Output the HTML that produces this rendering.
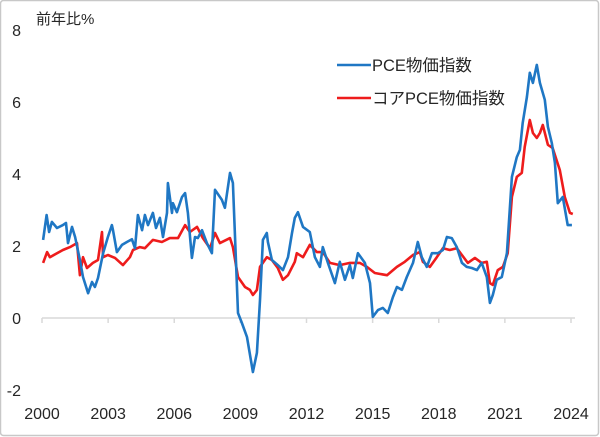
<!DOCTYPE html>
<html><head><meta charset="utf-8"><style>
html,body{margin:0;padding:0;background:#fff}
#wrap{position:relative;width:600px;height:437px;overflow:hidden;background:#fff}
svg text{font-family:"Liberation Sans","Noto Sans CJK JP",sans-serif;fill:#262626}
</style></head><body>
<div id="wrap">
<svg id="chart" width="600" height="437">
<rect x="0.5" y="0.5" width="598" height="435" fill="#fff" stroke="#c8c8c8" stroke-width="1.5" rx="3"/>
<text x="36" y="24" font-size="15">前年比%</text>
<g id="yticks"></g><g id="xaxis"></g><g id="series"></g>
<g>
<line x1="337" y1="65" x2="371" y2="65" stroke="#1f77c4" stroke-width="2.6"/>
<text x="372" y="71" font-size="16.5">PCE物価指数</text>
<line x1="337" y1="98" x2="371" y2="98" stroke="#ee1c1c" stroke-width="2.6"/>
<text x="372" y="104" font-size="16.5">コアPCE物価指数</text>
</g>
</svg></div>
<script>
const yTicks=[8,6,4,2,0,-2];
const xTickLabels=[2000,2003,2006,2009,2012,2015,2018,2021,2024];
const pceYears=[0.05,0.21,0.32,0.45,0.68,0.95,1.09,1.18,1.36,1.50,1.72,1.86,2.09,2.27,2.40,2.54,2.77,2.99,3.17,3.22,3.40,3.63,3.85,4.08,4.22,4.35,4.54,4.67,4.81,5.03,5.17,5.35,5.49,5.67,5.71,5.90,5.94,6.12,6.35,6.49,6.62,6.80,6.94,7.07,7.26,7.48,7.71,7.85,8.16,8.30,8.53,8.66,8.89,9.07,9.30,9.57,9.75,9.89,10.02,10.20,10.25,10.43,10.70,10.93,11.16,11.34,11.47,11.61,11.84,12.15,12.38,12.61,12.74,12.97,13.29,13.51,13.74,13.97,14.10,14.33,14.65,14.88,15.01,15.24,15.46,15.69,15.92,16.10,16.33,16.55,16.83,17.05,17.23,17.46,17.69,17.96,18.19,18.37,18.59,18.82,19.05,19.27,19.50,19.73,19.95,20.18,20.32,20.45,20.63,20.86,21.09,21.32,21.54,21.68,21.81,22.00,22.13,22.27,22.45,22.59,22.81,22.95,23.13,23.27,23.40,23.63,23.85,24.04];
const pceValues=[2.17,2.86,2.39,2.67,2.5,2.58,2.64,2.08,2.53,2.25,1.61,1.14,0.69,1.0,0.86,1.11,1.8,2.25,2.58,2.44,1.83,2.03,2.11,2.19,1.94,2.86,2.44,2.86,2.58,2.92,2.5,2.78,2.25,2.92,3.75,2.92,3.19,2.94,3.36,3.47,2.92,1.67,2.25,2.22,2.44,2.08,1.8,3.56,3.28,3.06,4.03,3.75,0.14,-0.14,-0.53,-1.5,-0.97,0.5,2.17,2.36,2.11,1.61,1.47,1.33,1.69,2.36,2.78,2.94,2.53,2.39,1.69,1.42,1.97,1.53,0.97,1.56,1.06,1.47,1.11,1.8,1.53,0.97,0.03,0.22,0.28,0.14,0.58,0.86,0.78,1.14,1.53,2.11,1.69,1.42,1.8,1.8,1.89,2.25,2.22,1.97,1.53,1.42,1.39,1.33,1.53,1.14,0.42,0.64,1.06,1.14,1.8,3.92,4.47,4.67,5.42,6.14,6.81,6.53,7.03,6.53,6.06,5.31,4.86,4.31,3.19,3.36,2.58,2.58];
const coreYears=[0.05,0.23,0.36,0.68,0.95,1.27,1.59,1.72,1.86,2.04,2.31,2.54,2.72,2.77,2.99,3.31,3.67,3.99,4.13,4.44,4.67,5.03,5.44,5.80,6.17,6.49,6.71,7.03,7.30,7.62,7.85,8.07,8.53,8.66,8.89,9.21,9.43,9.57,9.75,9.89,10.20,10.43,10.70,10.93,11.16,11.47,11.56,11.84,12.15,12.47,12.74,13.06,13.51,13.97,14.42,14.74,15.10,15.65,16.10,16.46,16.83,17.14,17.28,17.60,17.91,18.19,18.50,18.82,19.05,19.32,19.64,19.95,20.18,20.32,20.45,20.68,20.91,21.13,21.32,21.54,21.77,21.90,22.13,22.27,22.45,22.59,22.72,22.95,23.17,23.49,23.72,23.95,24.08];
const coreValues=[1.53,1.83,1.69,1.8,1.89,1.97,2.08,1.19,1.69,1.39,1.53,1.61,2.39,1.69,1.75,1.67,1.47,1.69,1.89,1.97,1.94,2.17,2.11,2.22,2.22,2.58,2.39,2.53,2.22,1.94,2.36,2.08,2.22,1.97,1.14,0.86,0.78,0.64,0.78,1.42,1.69,1.61,1.39,1.06,1.19,1.56,1.8,1.69,2.03,1.83,1.83,1.53,1.47,1.53,1.53,1.42,1.25,1.19,1.42,1.56,1.75,1.83,1.56,1.42,1.69,1.94,1.89,1.94,1.75,1.53,1.67,1.53,1.56,0.97,0.92,1.33,1.42,1.8,3.36,3.92,4.03,4.75,5.5,5.14,5.0,5.14,5.36,4.81,4.72,4.11,3.36,2.92,2.89];
const NS='http://www.w3.org/2000/svg';
const x0=42,x1=571,yr0=2000,yr1=2024,yZero=318,perUnit=36;
function xScale(yr){return x0+(yr-yr0)*(x1-x0)/(yr1-yr0);}
function yScale(v){return yZero-v*perUnit;}
const yt=document.getElementById('yticks');
yTicks.forEach(v=>{
  const t=document.createElementNS(NS,'text');
  t.setAttribute('x',21);t.setAttribute('y',yScale(v)+6);t.setAttribute('text-anchor','end');t.setAttribute('font-size','16');
  t.textContent=v;
  
  
  yt.appendChild(t);
});
const xa=document.getElementById('xaxis');
const ax=document.createElementNS(NS,'line');
ax.setAttribute('x1',x0);ax.setAttribute('x2',x1+4);ax.setAttribute('y1',yScale(0));ax.setAttribute('y2',yScale(0));
ax.setAttribute('stroke','#d9d9d9');ax.setAttribute('stroke-width','1.5');


xa.appendChild(ax);
xTickLabels.forEach(yr=>{
  const tk=document.createElementNS(NS,'line');
  tk.setAttribute('x1',xScale(yr));tk.setAttribute('x2',xScale(yr));tk.setAttribute('y1',yScale(0));tk.setAttribute('y2',yScale(0)+5);
  tk.setAttribute('stroke','#d9d9d9');tk.setAttribute('stroke-width','1.5');
  
  
  xa.appendChild(tk);
  const t=document.createElementNS(NS,'text');
  t.setAttribute('x',xScale(yr));t.setAttribute('y',419);t.setAttribute('text-anchor','middle');t.setAttribute('font-size','16');
  t.textContent=yr;
  
  
  xa.appendChild(t);
});
const sg=document.getElementById('series');
function drawLine(years,vals,color,name){
  const p=document.createElementNS(NS,'polyline');
  p.setAttribute('points',years.map((y,i)=>xScale(yr0+y).toFixed(1)+','+yScale(vals[i]).toFixed(1)).join(' '));
  p.setAttribute('fill','none');p.setAttribute('stroke',color);p.setAttribute('stroke-width','2.6');p.setAttribute('stroke-linejoin','round');
  
  
  sg.appendChild(p);
}
drawLine(coreYears,coreValues,'#ee1c1c','core-pce-line');
drawLine(pceYears,pceValues,'#1f77c4','pce-line');
</script>
</body></html>
